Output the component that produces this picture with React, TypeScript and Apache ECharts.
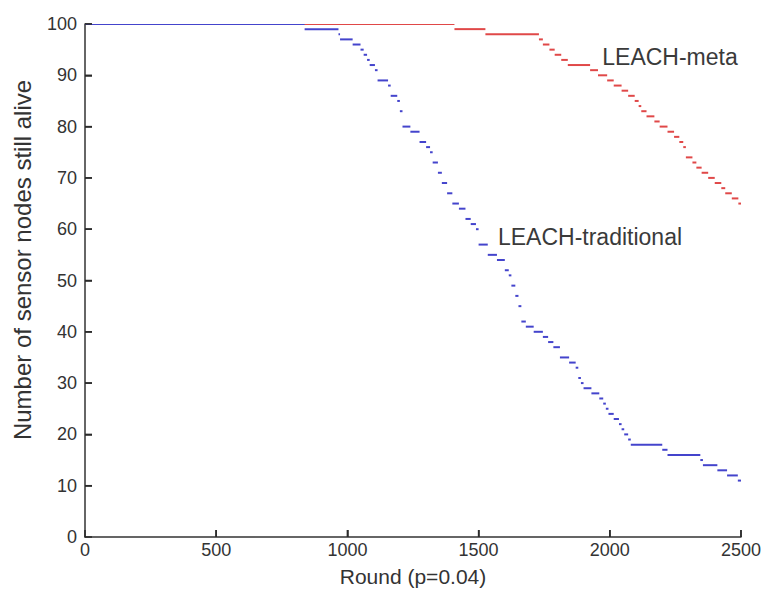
import React, { useEffect, useRef } from "react";
import * as echarts from "echarts";

// Breakpoints: round at which the count of alive nodes changes, and the new count
const traditionalRounds = [0, 837, 966, 972, 1020, 1050, 1062, 1075, 1085, 1105, 1115, 1155, 1165, 1190, 1200, 1210, 1240, 1275, 1300, 1315, 1325, 1345, 1360, 1380, 1400, 1425, 1450, 1470, 1490, 1500, 1535, 1570, 1600, 1615, 1625, 1640, 1652, 1663, 1680, 1710, 1745, 1765, 1785, 1810, 1845, 1870, 1880, 1890, 1900, 1930, 1960, 1975, 1985, 1995, 2015, 2035, 2045, 2055, 2070, 2080, 2200, 2220, 2345, 2355, 2410, 2447, 2488];
const traditionalAlive = [100, 99, 98, 97, 96, 95, 94, 93, 92, 91, 89, 88, 86, 85, 83, 80, 79, 77, 76, 75, 73, 71, 69, 67, 65, 64, 62, 61, 60, 57, 55, 54, 52, 51, 49, 47, 45, 42, 41, 40, 39, 38, 37, 35, 34, 33, 31, 30, 29, 28, 27, 26, 25, 24, 23, 22, 21, 20, 19, 18, 17, 16, 15, 14, 13, 12, 11];

const metaRounds = [0, 1408, 1526, 1730, 1745, 1770, 1790, 1815, 1840, 1925, 1955, 1990, 2015, 2045, 2070, 2095, 2110, 2120, 2140, 2170, 2190, 2220, 2245, 2265, 2280, 2290, 2315, 2330, 2350, 2375, 2400, 2425, 2440, 2465, 2490];
const metaAlive = [100, 99, 98, 97, 96, 95, 94, 93, 92, 91, 90, 89, 88, 87, 86, 85, 84, 83, 82, 81, 80, 79, 78, 77, 76, 74, 73, 72, 71, 70, 69, 68, 67, 66, 65];

const xTicks = [0, 500, 1000, 1500, 2000, 2500];
const yTicks = [0, 10, 20, 30, 40, 50, 60, 70, 80, 90, 100];

const LAST_ROUND = 2500;

function toSegments(rounds: number[], alive: number[]) {
  return rounds.map((r, i) => [r, i + 1 < rounds.length ? rounds[i + 1] : LAST_ROUND, alive[i]]);
}

function stepSeries(name: string, color: string, rounds: number[], alive: number[]) {
  return {
    type: "custom",
    name,
    clip: true,
    encode: { x: [0, 1], y: 2 },
    data: toSegments(rounds, alive),
    renderItem: (params: any, api: any) => {
      const p0 = api.coord([api.value(0), api.value(2)]);
      const p1 = api.coord([api.value(1), api.value(2)]);
      return {
        type: "line",
        shape: { x1: p0[0], y1: p0[1], x2: p1[0], y2: p1[1] },
        style: { stroke: color, lineWidth: 2 },
      };
    },
  };
}

const TICK_COLOR = "#2a2a2a";
const TICK_LEN = 7;

export default function App() {
  const ref = useRef<HTMLDivElement>(null);
  useEffect(() => {
    if (!ref.current) return;
    const chart = echarts.init(ref.current, null, { renderer: "svg" });
    const font = "'Liberation Sans', Arial, sans-serif";
    const tick = { show: true, inside: true, length: TICK_LEN, lineStyle: { color: TICK_COLOR, width: 1.5 } };
    chart.setOption({
      animation: false,
      backgroundColor: "#ffffff",
      grid: { left: 85, right: 22, top: 24, bottom: 59, containLabel: false },
      xAxis: {
        type: "value",
        min: xTicks[0],
        max: xTicks[xTicks.length - 1],
        interval: 500,
        name: "Round (p=0.04)",
        nameLocation: "middle",
        nameGap: 29,
        nameTextStyle: { fontFamily: font, fontSize: 21, color: "#333333" },
        axisLine: { show: true, onZero: false, lineStyle: { color: "#333333", width: 1.5 } },
        axisTick: tick,
        axisLabel: {
          fontFamily: font,
          fontSize: 18,
          color: "#333333",
          margin: 4,
          formatter: (v: number) => String(v),
        },
        splitLine: { show: false },
      },
      yAxis: {
        type: "value",
        min: yTicks[0],
        max: yTicks[yTicks.length - 1],
        interval: 10,
        axisLine: { show: true, onZero: false, lineStyle: { color: "#333333", width: 1.5 } },
        axisTick: tick,
        axisLabel: {
          fontFamily: font,
          fontSize: 18,
          color: "#333333",
          margin: 8,
          formatter: (v: number) => String(v),
        },
        splitLine: { show: false },
      },
      graphic: [
        {
          type: "text",
          x: 22,
          y: 260,
          rotation: Math.PI / 2,
          style: {
            text: "Number of sensor nodes still alive",
            fontFamily: font,
            fontSize: 24,
            fill: "#333333",
            align: "center",
            verticalAlign: "middle",
          },
        },
        {
          type: "text",
          x: 670,
          y: 57,
          style: {
            text: "LEACH-meta",
            fontFamily: font,
            fontSize: 23,
            fill: "#3a3a3a",
            align: "center",
            verticalAlign: "middle",
          },
        },
        {
          type: "text",
          x: 590,
          y: 237,
          style: {
            text: "LEACH-traditional",
            fontFamily: font,
            fontSize: 23,
            fill: "#3a3a3a",
            align: "center",
            verticalAlign: "middle",
          },
        },
      ],
      series: [
        {
          type: "custom",
          name: "xTickMarks",
          silent: true,
          clip: false,
          z: 10,
          encode: { x: 0, y: 1 },
          data: xTicks.slice(1).map((v) => [v, yTicks[0]]),
          renderItem: (params: any, api: any) => {
            const p = api.coord([api.value(0), api.value(1)]);
            return {
              type: "rect",
              shape: { x: p[0] - 0.75, y: p[1] - TICK_LEN, width: 1.5, height: TICK_LEN },
              style: { fill: TICK_COLOR },
            };
          },
        },
        {
          type: "custom",
          name: "yTickMarks",
          silent: true,
          clip: false,
          z: 10,
          encode: { x: 0, y: 1 },
          data: yTicks.slice(1).map((v) => [xTicks[0], v]),
          renderItem: (params: any, api: any) => {
            const p = api.coord([api.value(0), api.value(1)]);
            return {
              type: "rect",
              shape: { x: p[0], y: p[1] - 0.75, width: TICK_LEN, height: 1.5 },
              style: { fill: TICK_COLOR },
            };
          },
        },
        stepSeries("LEACH-meta", "#e04848", metaRounds, metaAlive),
        stepSeries("LEACH-traditional", "#4444cc", traditionalRounds, traditionalAlive),
      ],
    });
    return () => chart.dispose();
  }, []);
  return (
    <div
      ref={ref}
      style={{ position: "fixed", left: 0, top: 0, width: 764, height: 596 }}
    />
  );
}
